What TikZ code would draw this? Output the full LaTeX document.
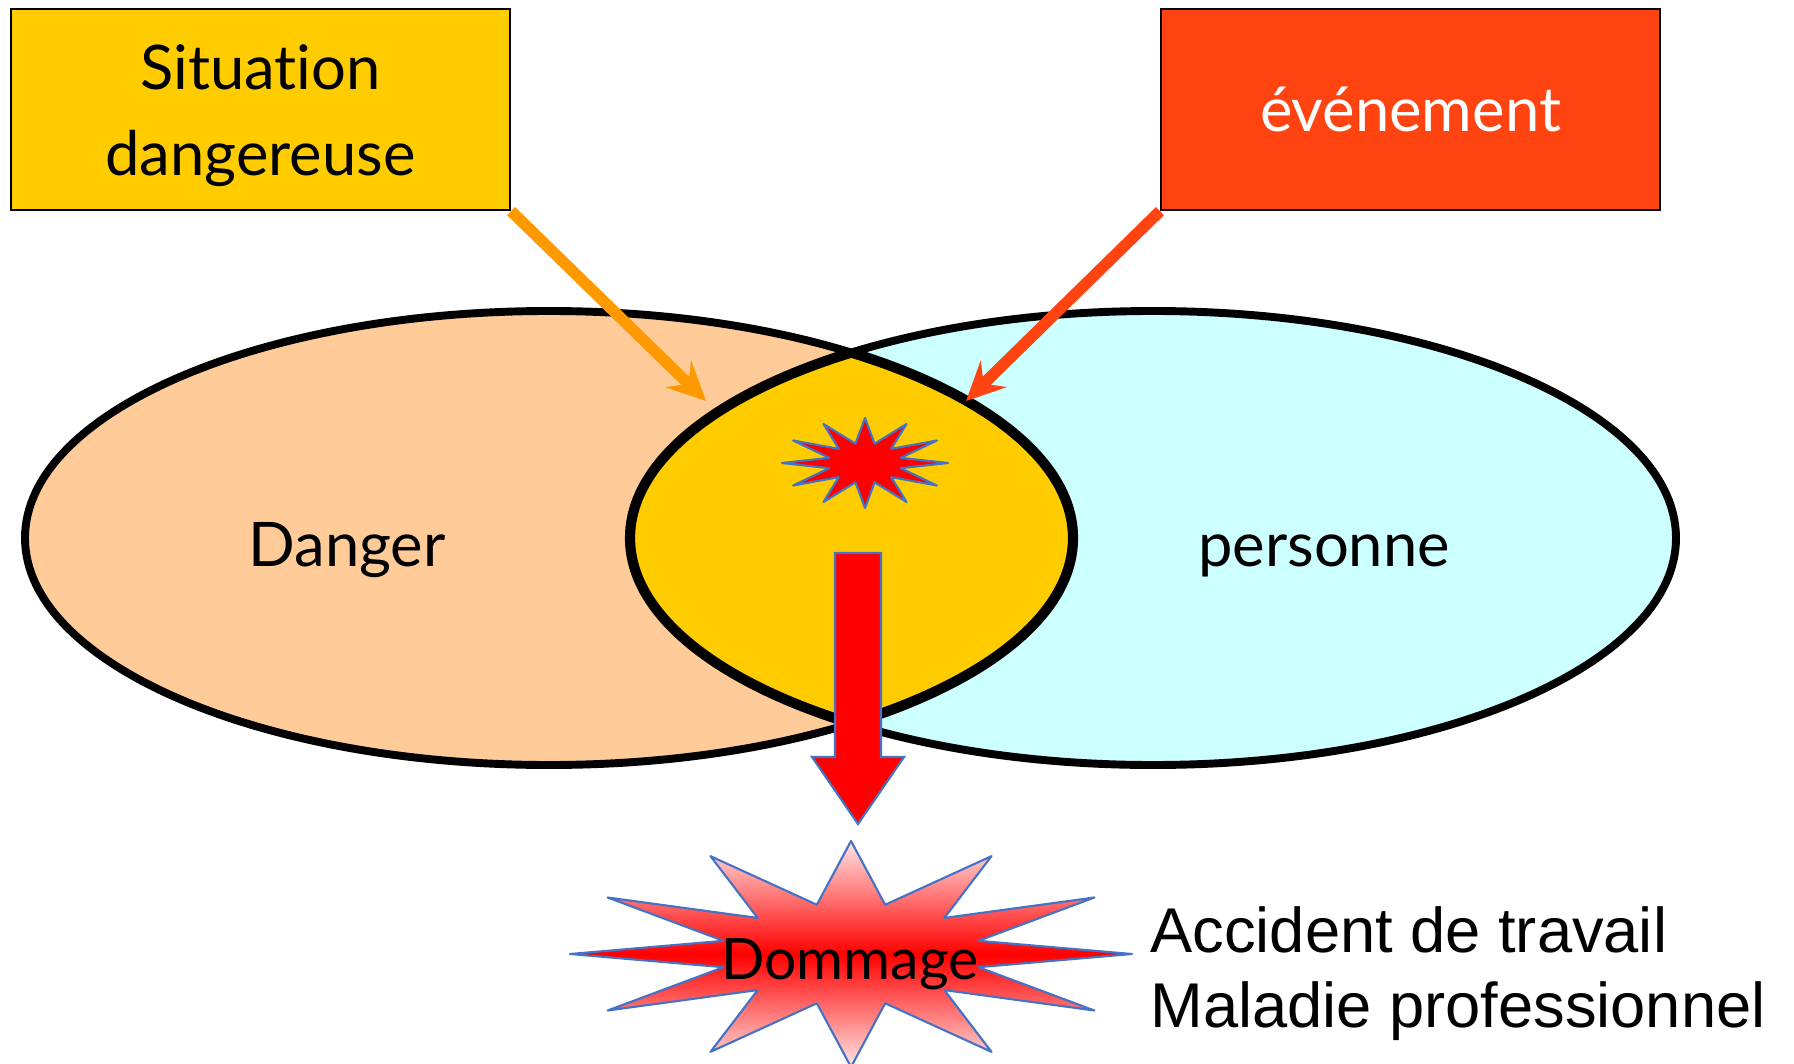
\documentclass[tikz,border=0pt]{standalone}
\usepackage{fontspec}
\setmainfont{Liberation Sans}
\newfontfamily\comicfont[Ligatures=NoCommon]{Lato}
\usetikzlibrary{arrows.meta}

\definecolor{jaune}{HTML}{FFCC00}
\definecolor{peche}{HTML}{FFCC99}
\definecolor{ciel}{HTML}{CCFFFF}
\definecolor{vermillon}{HTML}{FF4411}
\definecolor{orangeclair}{HTML}{FF9900}
\definecolor{bordbleu}{HTML}{4472C4}
\definecolor{rosepale}{HTML}{FFE6E6}

\tikzset{
  boite/.style={draw=black, line width=1.3pt, minimum width=9.98cm, minimum height=4.02cm, inner sep=0pt, align=center},
  comic/.style={font={\comicfont\fontsize{35}{48.8}\selectfont}},
  fleche/.style={line width=6.5pt, -{Stealth[length=22pt,width=21pt,inset=8pt]}},
  eclat/.style={draw=bordbleu, line width=1.2pt, line join=round},
  contour/.style={draw=black, line width=4.5pt},
}

\begin{document}
\begin{tikzpicture}[x=0.02cm, y=-0.02cm]
\clip (0,0) rectangle (1794,1064);

% les deux ensembles
\draw[contour, fill=peche] (549,538) ellipse [x radius=524, y radius=227];
\draw[contour, fill=ciel] (1153,538) ellipse [x radius=523, y radius=227];

% zone commune
\begin{scope}
\clip (549,538) ellipse [x radius=524, y radius=227];
\fill[jaune] (1153,538) ellipse [x radius=523, y radius=227];
\draw[line width=5.8pt] (1153,538) ellipse [x radius=523, y radius=227];
\end{scope}
\begin{scope}
\clip (1153,538) ellipse [x radius=523, y radius=227];
\draw[line width=5.8pt] (549,538) ellipse [x radius=524, y radius=227];
\end{scope}

\node (danger) [comic, anchor=base, inner sep=0pt] at (347,566) {Danger};
\node (pers)   [comic, anchor=base, inner sep=0pt] at (1324,566) {personne};

% les causes
\node (sit) [boite, fill=jaune, comic, text height=82pt, text depth=7pt] at (260.5,109.5) {Situation\\dangereuse};
\node (evt) [boite, fill=vermillon, comic, text=white] at (1410.5,109.5) {événement};

\coordinate (sitTip) at (706,401);
\coordinate (evtTip) at (966,401);
\draw[fleche, orangeclair] (sit.south east) -- (sitTip);
\draw[fleche, vermillon] (evt.south west) -- (evtTip);

% petit eclat
\begin{scope}[shift={(865,463)}]
\draw[eclat, fill=red] (0:83 and 45) \foreach \a in {0,30,...,330} { -- (\a:83 and 45) -- (\a+15:37 and 20) } -- cycle;
\end{scope}

% grosse fleche
\draw[eclat, line join=miter, fill=red] (835,553) -- (881,553) -- (881,757) -- (904,757) -- (858,824)
  -- (812,757) -- (835,757) -- cycle;

% dommage
\begin{scope}[shift={(851,954)}]
\draw[eclat, top color=rosepale, bottom color=rosepale, middle color=red]
  (0:281 and 113) \foreach \a in {0,30,...,330} { -- (\a:281 and 113) -- (\a+15:132 and 51) } -- cycle;
\end{scope}
\node (dom) [font={\comicfont\fontsize{32.5}{40}\selectfont}, anchor=base, inner sep=0pt] at (850,979) {Dommage};

\node (acc) [font=\fontsize{36}{42.5}\selectfont, anchor=base west, inner sep=0pt] at (1150,952) {Accident de travail};
\node (mal) [font=\fontsize{36}{42.5}\selectfont, anchor=base west, inner sep=0pt] at (1150,1027) {Maladie professionnel};
\end{tikzpicture}
\end{document}
